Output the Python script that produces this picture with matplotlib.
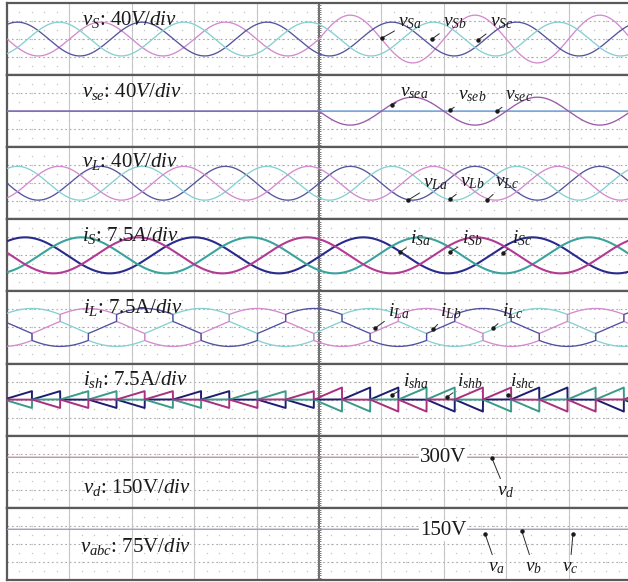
import numpy as np
import matplotlib
matplotlib.use("Agg")
import matplotlib.pyplot as plt

plt.rcParams['font.family'] = ['Liberation Serif', 'DejaVu Serif']
plt.rcParams['mathtext.fontset'] = 'custom'
plt.rcParams['mathtext.rm'] = 'Liberation Serif'
plt.rcParams['mathtext.it'] = 'Liberation Serif:italic'
plt.rcParams['mathtext.bf'] = 'Liberation Serif:bold'

# ---- time base: 10 horizontal divisions, disturbance applied at division 5
N_DIV = 10
T_EVENT = 5.0

# ---- voltage waveforms (amplitude in V, period/peak time in divisions)
V_PERIOD = 2.0
V_PEAK_A = 5.5
VS_AMP_BEFORE = [75, 75, 75]      # phases a, b, c
VS_AMP_AFTER = [106, 75, 75]
VSE_AMP_AFTER = [62, 0, 0]
VL_AMP = [75, 75, 75]

# ---- current waveforms (A, divisions)
I_PERIOD = 2.71
IS_PEAK_A = 0.29
IS_AMP = [15, 15, 15]
IL_CENTER_A = 0.40
IL_SINE_AMP = 10.0
IL_STEP = 5.8
ISH_PEAK_BEFORE = 7.0
ISH_PEAK_AFTER = 10.0

# ---- dc-link and capacitor voltages (V)
VD_LEVEL = 300
VABC_LEVEL = [150, 150, 150]

# ---- panel scales (units per division, 8 vertical divisions per strip)
PANEL_UNITS = [40, 40, 40, 7.5, 7.5, 7.5]
VD_LIMITS = (-400, 600)
VABC_LIMITS = (-200, 300)

t = np.linspace(0, N_DIV, 24001)
after = t >= T_EVENT


def cosine(peak, period):
    return np.cos(2 * np.pi * (t - peak) / period)


def zone(center, period):
    """Phase position in cycles, shifted so 0 marks the start of the positive block."""
    return ((t - center) / period + 1.0 / 6.0) % 1.0


def block(center, period):
    p = zone(center, period)
    out = np.zeros_like(t)
    out[p < 1 / 3] = 1.0
    out[(p >= 0.5) & (p < 5 / 6)] = -1.0
    return out


def ramp(center, period):
    p = zone(center, period)
    return (p * 6.0) % 1.0


# ---- build the series
shift_v = [0, V_PERIOD / 3, 2 * V_PERIOD / 3]
shift_i = [0, I_PERIOD / 3, 2 * I_PERIOD / 3]

vs = [np.where(after, VS_AMP_AFTER[k], VS_AMP_BEFORE[k]) * cosine(V_PEAK_A + shift_v[k], V_PERIOD)
      for k in range(3)]
vse = [np.where(after, -VSE_AMP_AFTER[k], 0.0) * cosine(V_PEAK_A + shift_v[k], V_PERIOD)
       for k in range(3)]
vl = [VL_AMP[k] * cosine(V_PEAK_A + shift_v[k], V_PERIOD) for k in range(3)]
isrc = [IS_AMP[k] * cosine(IS_PEAK_A + shift_i[k], I_PERIOD) for k in range(3)]
il = [IL_SINE_AMP * cosine(IL_CENTER_A + shift_i[k], I_PERIOD)
      + IL_STEP * block(IL_CENTER_A + shift_i[k], I_PERIOD) for k in range(3)]
ish_peak = np.where(after, ISH_PEAK_AFTER, ISH_PEAK_BEFORE)
ish = [ish_peak * block(IL_CENTER_A + shift_i[k], I_PERIOD) * ramp(IL_CENTER_A + shift_i[k], I_PERIOD)
       for k in range(3)]
vd = np.full_like(t, VD_LEVEL)
vabc = [np.full_like(t, VABC_LEVEL[k]) for k in range(3)]

# ---- colours (a, b, c per strip)
NAVY_L, CYAN_L, PINK_L = '#55559e', '#86d0d2', '#d48ace'
NAVY_D, TEAL_D, MAG_D = '#2a2a8c', '#3aa39c', '#b23a94'
COLORS = {
    'vs': [PINK_L, NAVY_L, CYAN_L],
    'vse': ['#9a5aaa', '#7a9ad8', '#8ccfe0'],
    'vl': [NAVY_L, CYAN_L, PINK_L],
    'is': [NAVY_D, TEAL_D, MAG_D],
    'il': [CYAN_L, PINK_L, '#5050a0'],
    'ish': ['#1e1e70', '#3c9a8a', '#a83080'],
}

# ---- figure and stacked strips
W, H = 628, 582
fig = plt.figure(figsize=(W / 100, H / 100), dpi=100)
fig.patch.set_facecolor('white')
TOP, STRIP = 3.0, 72.1
X0, XW = 7.0, 624.0

axes = []
for k in range(8):
    top_px = TOP + STRIP * k
    ax = fig.add_axes([X0 / W, 1 - (top_px + STRIP) / H, XW / W, STRIP / H])
    ax.set_xlim(0, N_DIV)
    if k < 6:
        u = PANEL_UNITS[k]
        ax.set_ylim(-4 * u, 4 * u)
    elif k == 6:
        ax.set_ylim(*VD_LIMITS)
    else:
        ax.set_ylim(*VABC_LIMITS)
    ax.set_xticks([])
    ax.set_yticks([])
    for s in ax.spines.values():
        s.set_color('#5a5a5a')
        s.set_linewidth(1.6)
    # graticule
    gx = ax.get_xaxis_transform()
    for x in range(1, N_DIV):
        if x != T_EVENT:
            ax.axvline(x, color='#c6c6c6', lw=0.8, zorder=0)
    lo, hi = ax.get_ylim()
    for f in (0.25, 0.5, 0.75):
        ax.axhline(lo + f * (hi - lo), color='#a9a9a9', lw=0.8,
                   ls=(0, (1.5, 2.5)), zorder=0)
    xs = np.arange(0, N_DIV + 0.01, 0.2)
    ys = np.arange(1, 8) / 8.0
    XX, YY = np.meshgrid(xs, ys)
    ax.plot(XX.ravel(), YY.ravel(), ls='none', marker='s', ms=0.9,
            color='#c4c4c4', mec='none', transform=gx, zorder=0)
    ax.axvline(T_EVENT, color='#6a6a6a', lw=1.4, zorder=1)
    ty = np.arange(1, 32) / 32.0
    ax.plot(np.full_like(ty, T_EVENT), ty, ls='none', marker='_', ms=3.5,
            mew=0.7, color='#7a7a7a', transform=gx, zorder=1)
    axes.append(ax)

# ---- traces
for k in range(3):
    axes[0].plot(t, vs[k], color=COLORS['vs'][k], lw=0.95, zorder=3)
for k in (2, 1, 0):
    axes[1].plot(t, vse[k], color=COLORS['vse'][k], lw=0.95, zorder=3)
for k in range(3):
    axes[2].plot(t, vl[k], color=COLORS['vl'][k], lw=0.95, zorder=3)
for k in range(3):
    axes[3].plot(t, isrc[k], color=COLORS['is'][k], lw=1.5, zorder=3)
for k in range(3):
    axes[4].plot(t, il[k], color=COLORS['il'][k], lw=0.95, zorder=3)
for k in range(3):
    axes[5].plot(t, ish[k], color=COLORS['ish'][k], lw=1.4, zorder=3)
axes[6].plot(t, vd, color='#b48c96', lw=0.9, zorder=3)
for k, c in enumerate(['#8a8ab4', '#9ab0c0', '#b090b0']):
    axes[7].plot(t, vabc[k], color=c, lw=0.8, alpha=0.7, zorder=3)

# ---- strip titles
TITLE_FS = 15
titles = [
    (r'$v_{S}$: 40$V/div$', 0.120, 0.695),
    (r'$v_{se}$: 40$V/div$', 0.120, 0.696),
    (r'$v_{L}$: 40$V/div$', 0.120, 0.725),
    (r'$i_{S}$: 7.5$A/div$', 0.120, 0.700),
    (r'$i_{L}$: 7.5A/$div$', 0.122, 0.700),
    (r'$i_{sh}$: 7.5A/$div$', 0.122, 0.700),
    (r'$v_{d}$: 150V/$div$', 0.122, 0.204),
    (r'$v_{abc}$: 75V/$div$', 0.117, 0.386),
]
for ax, (txt, fx, fy) in zip(axes, titles):
    ax.text(fx, fy, txt, transform=ax.transAxes, fontsize=TITLE_FS,
            ha='left', va='baseline', color='#1a1a1a', zorder=5)

# ---- pointer labels: (strip, text, text pos, tip pos) in axes fraction
LABEL_FS = 14
pointers = [
    (0, r'$v_{Sa}$', (0.627, 0.681), (0.601, 0.515)),
    (0, r'$v_{Sb}$', (0.699, 0.681), (0.681, 0.500)),
    (0, r'$v_{Sc}$', (0.774, 0.681), (0.755, 0.487)),
    (1, r'$v_{sea}$', (0.630, 0.710), (0.617, 0.585)),
    (1, r'$v_{seb}$', (0.723, 0.669), (0.710, 0.516)),
    (1, r'$v_{sec}$', (0.798, 0.669), (0.785, 0.502)),
    (2, r'$v_{La}$', (0.667, 0.448), (0.643, 0.268)),
    (2, r'$v_{Lb}$', (0.726, 0.462), (0.710, 0.282)),
    (2, r'$v_{Lc}$', (0.782, 0.462), (0.769, 0.268)),
    (3, r'$i_{Sa}$', (0.646, 0.671), (0.630, 0.546)),
    (3, r'$i_{Sb}$', (0.729, 0.671), (0.710, 0.546)),
    (3, r'$i_{Sc}$', (0.809, 0.671), (0.795, 0.533)),
    (4, r'$i_{La}$', (0.611, 0.659), (0.590, 0.492)),
    (4, r'$i_{Lb}$', (0.694, 0.659), (0.683, 0.479)),
    (4, r'$i_{Lc}$', (0.793, 0.659), (0.779, 0.492)),
    (5, r'$i_{sha}$', (0.635, 0.688), (0.617, 0.563)),
    (5, r'$i_{shb}$', (0.721, 0.688), (0.705, 0.535)),
    (5, r'$i_{shc}$', (0.806, 0.688), (0.803, 0.563)),
    (6, r'$v_{d}$', (0.785, 0.176), (0.777, 0.690)),
    (7, r'$v_{a}$', (0.771, 0.122), (0.766, 0.640)),
    (7, r'$v_{b}$', (0.830, 0.122), (0.825, 0.677)),
    (7, r'$v_{c}$', (0.889, 0.122), (0.907, 0.640)),
]
for k, txt, tpos, tip in pointers:
    ax = axes[k]
    ax.annotate(txt, xy=tip, xycoords='axes fraction', xytext=tpos,
                textcoords='axes fraction', fontsize=LABEL_FS, ha='left',
                va='baseline', color='#1a1a1a', zorder=6,
                arrowprops=dict(arrowstyle='-', lw=0.7, color='#2a2a2a',
                                shrinkA=1, shrinkB=0))
    ax.plot([tip[0]], [tip[1]], 'o', ms=2.2, color='#1a1a1a',
            transform=ax.transAxes, zorder=6)

# ---- level annotations on the dc strips
axes[6].text(0.662, 0.634, f'{VD_LEVEL}V', transform=axes[6].transAxes,
             fontsize=15, ha='left', va='baseline', color='#1a1a1a', zorder=6,
             bbox=dict(facecolor='white', edgecolor='none', pad=0.5))
axes[7].text(0.662, 0.621, f'{VABC_LEVEL[0]}V', transform=axes[7].transAxes,
             fontsize=15, ha='left', va='baseline', color='#1a1a1a', zorder=6,
             bbox=dict(facecolor='white', edgecolor='none', pad=0.5))

fig.savefig('out.png', dpi=100, facecolor='white')
